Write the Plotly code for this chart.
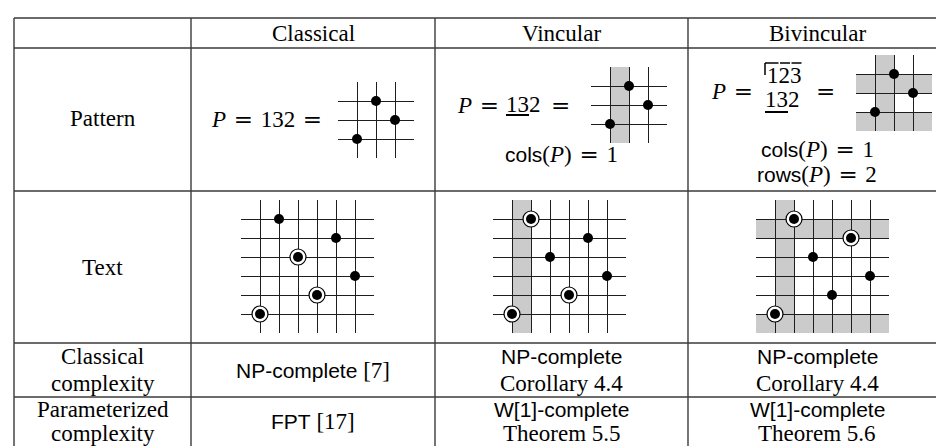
import plotly.graph_objects as go

W, H = 944, 446

# ---- data -------------------------------------------------------------
columns = ["Classical", "Vincular", "Bivincular"]
row_labels = ["Pattern", "Text"]
pattern = [1, 3, 2]
text_perm = [1, 6, 4, 2, 5, 3]
occurrences = [[1, 3, 4], [1, 2, 4], [1, 2, 5]]          # columns of the text hit by P
pattern_shaded_cols = [[], [1], [1]]
pattern_shaded_rows = [[], [], [0, 2]]
text_shaded_cols = [[], [1], [1]]
text_shaded_rows = [[], [], [0, 5]]
cols_count = [None, 1, 1]
rows_count = [None, None, 2]
complexity_labels = [["Classical", "complexity"], ["Parameterized", "complexity"]]
# (sans part, serif part) per line
classical_complexity = [
    [("NP-complete", " [7]")],
    [("NP-complete", ""), ("", "Corollary 4.4")],
    [("NP-complete", ""), ("", "Corollary 4.4")],
]
param_complexity = [
    [("FPT", " [17]")],
    [("W[1]-complete", ""), ("", "Theorem 5.5")],
    [("W[1]-complete", ""), ("", "Theorem 5.6")],
]

# ---- style / layout ---------------------------------------------------
SERIF = "Liberation Serif"
SANS = "Liberation Sans"
FS = 23
FS_SANS = 21
RULE = "#3a3a3a"
GRID = "#1e1e1e"
SHADE = "#cbcbcb"
DIGIT = FS * 0.5
SP = "\u2004"   # thick math space
EQ = '<span style="font-family:DejaVu Serif">=</span>'

col_x = [6, 183, 427, 680, 938]
row_y = [10, 40, 183, 335, 389]
col_centers = [(col_x[i] + col_x[i + 1]) / 2 for i in range(4)]

# grid boxes in pixels (left, top, right, bottom)
pattern_boxes = [(330, 74, 406, 150), (583, 59, 659, 135), (848, 47, 924, 123)]
text_boxes = [(233, 192, 366, 325), (485, 192, 618, 325), (748, 192, 881, 325)]

fig = go.Figure()
shapes = []
annotations = []


def px(x):
    return x / W


def py(y):
    return 1 - y / H


def sans(s):
    return f'<span style="font-family:{SANS};font-size:{FS_SANS}px">{s}</span>' if s else ""


def note(text, x, y, xanchor="center", size=FS):
    annotations.append(dict(
        text=text, x=px(x), y=py(y), xref="paper", yref="paper",
        xanchor=xanchor, yanchor="middle", showarrow=False,
        font=dict(family=SERIF, size=size, color="black"),
    ))


def seg(x0, y0, x1, y1, color="black", width=2):
    shapes.append(dict(type="line", xref="paper", yref="paper",
                       x0=px(x0), y0=py(y0), x1=px(x1), y1=py(y1),
                       line=dict(color=color, width=width)))


def add_diagram(idx, box, perm, occ, shade_cols, shade_rows):
    n = len(perm)
    x0, y0, x1, y1 = box
    ax = dict(range=[0, n + 1], tickvals=list(range(1, n + 1)), showgrid=True,
              gridcolor=GRID, gridwidth=1.3, showticklabels=False, zeroline=False,
              showline=False, ticks="", fixedrange=True)
    fig.update_layout(**{
        f"xaxis{idx}": dict(ax, domain=[px(x0), px(x1)], anchor=f"y{idx}"),
        f"yaxis{idx}": dict(ax, domain=[py(y1), py(y0)], anchor=f"x{idx}"),
    })
    for c in shade_cols:
        shapes.append(dict(type="rect", xref=f"x{idx}", yref=f"y{idx}", x0=c, x1=c + 1,
                           y0=0, y1=n + 1, fillcolor=SHADE, line=dict(width=0), layer="below"))
    for r in shade_rows:
        shapes.append(dict(type="rect", xref=f"x{idx}", yref=f"y{idx}", x0=0, x1=n + 1,
                           y0=r, y1=r + 1, fillcolor=SHADE, line=dict(width=0), layer="below"))
    if occ:
        fig.add_trace(go.Scatter(
            x=occ, y=[perm[c - 1] for c in occ], mode="markers", xaxis=f"x{idx}", yaxis=f"y{idx}",
            marker=dict(size=16, color="white", line=dict(color="black", width=1.2)),
            hoverinfo="skip", showlegend=False))
    fig.add_trace(go.Scatter(
        x=list(range(1, n + 1)), y=perm, mode="markers", xaxis=f"x{idx}", yaxis=f"y{idx}",
        marker=dict(size=10, color="black"), hoverinfo="skip", showlegend=False))


# ---- table rules ------------------------------------------------------
for y in row_y:
    seg(col_x[0], y, col_x[-1], y, RULE, 1.4)
for x in col_x:
    seg(x, row_y[0], x, H + 2, RULE, 1.4)

# ---- header and row labels -------------------------------------------
for i, name in enumerate(columns):
    note(name, col_centers[i + 1], 25)
note(row_labels[0], col_centers[0], 111)
note(row_labels[1], col_centers[0], 259)
for j, y in enumerate([348, 375]):
    note(complexity_labels[0][j], col_centers[0], y)
for j, y in enumerate([401, 425]):
    note(complexity_labels[1][j], col_centers[0], y)

# ---- diagrams ---------------------------------------------------------
for i in range(3):
    add_diagram(2 * i + 2, pattern_boxes[i], pattern, [],
                pattern_shaded_cols[i], pattern_shaded_rows[i])
    add_diagram(2 * i + 3, text_boxes[i], text_perm, occurrences[i],
                text_shaded_cols[i], text_shaded_rows[i])

# ---- pattern cell formulas -------------------------------------------
digits = "".join(str(v) for v in pattern)
note(f"<i>P</i>{SP}{EQ}{SP}{digits}{SP}{EQ}", 316, 111, "right")

# vincular: P = 1̲3̲2 =
note(f"<i>P</i>{SP}{EQ}", 493, 97, "right")
note(digits, 496, 97, "left")
note(EQ, 541, 97, "left")
seg(498, 107, 498 + 2 * DIGIT, 107)

# bivincular: stacked 123 over 132
sorted_digits = "".join(str(v) for v in sorted(pattern))
note(f"<i>P</i>{SP}{EQ}", 747, 83, "right")
tx = 759
note(sorted_digits, tx - 2, 67, "left")
note(digits, 755, 91, "left")
note(EQ, 806, 83, "left")
seg(757, 104, 757 + 2 * DIGIT, 104)
bar_y = 55
seg(tx - 2, bar_y, tx - 2, bar_y + 12, width=1.5)
seg(tx - 2, bar_y, tx + DIGIT, bar_y, width=1.5)
seg(tx + DIGIT + 1.5, bar_y, tx + 2 * DIGIT, bar_y, width=1.5)
seg(tx + 2 * DIGIT + 1.5, bar_y, tx + 3 * DIGIT, bar_y, width=1.5)

for i in range(3):
    if cols_count[i] is not None:
        note(f"{sans('cols')}(<i>P</i>){SP}{EQ}{SP}{cols_count[i]}", col_centers[i + 1],
             146 if i == 1 else 141)
    if rows_count[i] is not None:
        note(f"{sans('rows')}(<i>P</i>){SP}{EQ}{SP}{rows_count[i]}", col_centers[i + 1], 166)

# ---- complexity rows --------------------------------------------------
for block, ys in [(classical_complexity, (348, 375, 362)), (param_complexity, (401, 425, 413))]:
    for i, lines in enumerate(block):
        if len(lines) == 1:
            a, b = lines[0]
            note(sans(a) + b, col_centers[i + 1], ys[2])
        else:
            for (a, b), y in zip(lines, ys[:2]):
                note(sans(a) + b, col_centers[i + 1], y)

fig.update_layout(
    width=W, height=H,
    margin=dict(l=0, r=0, t=0, b=0),
    paper_bgcolor="white",
    plot_bgcolor="rgba(0,0,0,0)",
    shapes=shapes,
    annotations=annotations,
    showlegend=False,
    xaxis=dict(visible=False), yaxis=dict(visible=False),
)

fig.write_html("out.html")
